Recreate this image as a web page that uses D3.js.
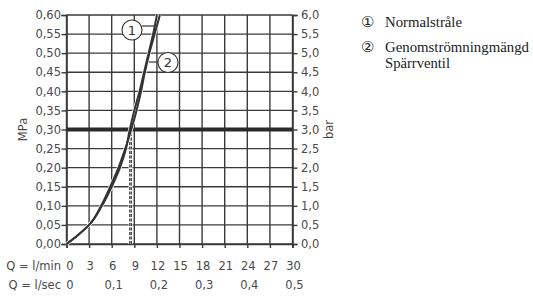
<!DOCTYPE html>
<html><head><meta charset="utf-8">
<script src="https://cdn.jsdelivr.net/npm/d3@7"></script>
<style>body{margin:0;background:#fff}svg{display:block}</style>
</head><body>
<script>
const qMinTicks = [0,3,6,9,12,15,18,21,24,27,30];
const qSecTicks = [0,6,12,18,24,30];
const qSecLabels = ["0","0,1","0,2","0,3","0,4","0,5"];
const mpaTicks = [0,0.05,0.10,0.15,0.20,0.25,0.30,0.35,0.40,0.45,0.50,0.55,0.60];
const barTicks = [0,0.5,1,1.5,2,2.5,3,3.5,4,4.5,5,5.5,6];
const curve1Q = [0,1.5,3,4.7,6.0,7.1,7.9,8.4,9.0,9.7,10.3,10.9,11.5,12.0];
const curve1P = [0,0.023,0.05,0.10,0.15,0.20,0.25,0.30,0.35,0.40,0.45,0.50,0.55,0.60];
const curve2Q = [0,1.5,3,4.6,5.8,6.9,7.8,8.6,9.3,9.9,10.4,11.0,11.7,12.4];
const curve2P = [0,0.023,0.05,0.10,0.15,0.20,0.25,0.30,0.35,0.40,0.45,0.50,0.55,0.60];
const refPressure = 0.30;
const dashQ = [8.4, 8.6];
const legend = [["①","Normalstråle"],["②","Genomströmningmängd","Spärrventil"]];

const W=533,H=297;
const svg=d3.select("body").append("svg").attr("width",W).attr("height",H);
const x=d3.scaleLinear().domain([0,30]).range([66.5,292.5]);
const y=d3.scaleLinear().domain([0,0.6]).range([244,15]);
const yb=d3.scaleLinear().domain([0,6]).range([244,15]);
const font="'DejaVu Sans', sans-serif";
const fs=11.5, tc="#4a4a4a";
const gc="#3a3a3a";

// grid
svg.append("g").selectAll("line").data(qMinTicks).join("line")
 .attr("x1",d=>x(d)).attr("x2",d=>x(d)).attr("y1",y(0)).attr("y2",y(0.6))
 .attr("stroke",gc).attr("stroke-width",1.4);
svg.append("g").selectAll("line").data(mpaTicks).join("line")
 .attr("x1",x(0)).attr("x2",x(30)).attr("y1",d=>y(d)).attr("y2",d=>y(d))
 .attr("stroke",gc).attr("stroke-width",1.4);

// axes
const la=d3.axisLeft(y).tickValues(mpaTicks).tickSize(5).tickFormat(d=>d3.format(".2f")(d).replace(".",","));
const gl=svg.append("g").attr("transform",`translate(${x(0)},0)`).call(la);
const ra=d3.axisRight(yb).tickValues(barTicks).tickSize(5).tickFormat(d=>d3.format(".1f")(d).replace(".",","));
const gr=svg.append("g").attr("transform",`translate(${x(30)},0)`).call(ra);
const ba=d3.axisBottom(x).tickValues(qMinTicks).tickSize(4).tickFormat("");
const gb=svg.append("g").attr("transform",`translate(0,${y(0)})`).call(ba);
[gl,gr,gb].forEach(g=>{
 g.select(".domain").attr("stroke",gc).attr("stroke-width",1.6);
 g.selectAll(".tick line").attr("stroke",gc).attr("stroke-width",1.4);
 g.selectAll("text").attr("font-family",font).attr("font-size",fs).attr("fill",tc);
});
gl.selectAll("text").attr("x",-5.5);
gr.selectAll("text").attr("x",8.5);

// bottom labels
svg.append("g").selectAll("text").data(qMinTicks).join("text")
 .attr("x",d=>x(d)+(d?1:3.5)).attr("y",269.5).attr("text-anchor","middle")
 .attr("font-family",font).attr("font-size",fs).attr("fill",tc).text(d=>d);
svg.append("g").selectAll("text").data(qSecTicks).join("text")
 .attr("x",d=>x(d)+(d?2:3.5)).attr("y",288.5).attr("text-anchor","middle")
 .attr("font-family",font).attr("font-size",fs).attr("fill",tc).text((d,i)=>qSecLabels[i]);
svg.append("text").attr("x",61).attr("y",269.5).attr("text-anchor","end")
 .attr("font-family",font).attr("font-size",fs).attr("fill",tc).text("Q = l/min");
svg.append("text").attr("x",61).attr("y",288.5).attr("text-anchor","end")
 .attr("font-family",font).attr("font-size",fs).attr("fill",tc).text("Q = l/sec");
svg.append("text").attr("transform",`translate(27,${y(0.3)}) rotate(-90)`).attr("text-anchor","middle")
 .attr("font-family",font).attr("font-size",fs).attr("fill",tc).text("MPa");
svg.append("text").attr("transform",`translate(333,${y(0.3)}) rotate(-90)`).attr("text-anchor","middle")
 .attr("font-family",font).attr("font-size",fs).attr("fill",tc).text("bar");

// dashed lines
dashQ.forEach(q=>{
 svg.append("line").attr("x1",x(q)).attr("x2",x(q)).attr("y1",y(0)).attr("y2",y(refPressure))
  .attr("stroke","#fff").attr("stroke-width",2.5);
});
dashQ.forEach(q=>{
 svg.append("line").attr("x1",x(q)).attr("x2",x(q)).attr("y1",y(0)).attr("y2",y(refPressure))
  .attr("stroke","#333").attr("stroke-width",1.2).attr("stroke-dasharray","3,1.5");
});

// reference line
svg.append("line").attr("x1",x(0)).attr("x2",x(30)).attr("y1",y(refPressure)).attr("y2",y(refPressure))
 .attr("stroke","#2a2a2a").attr("stroke-width",4);

// curves
const line=d3.line().curve(d3.curveMonotoneY);
[[curve1Q,curve1P],[curve2Q,curve2P]].forEach(([qs,ps])=>{
 const pts=qs.map((q,i)=>[x(q),y(ps[i])]);
 svg.append("path").attr("d",line(pts)).attr("fill","none").attr("stroke","#fff").attr("stroke-width",3.4);
});
[[curve1Q,curve1P],[curve2Q,curve2P]].forEach(([qs,ps])=>{
 const pts=qs.map((q,i)=>[x(q),y(ps[i])]);
 svg.append("path").attr("d",line(pts)).attr("fill","none").attr("stroke","#333").attr("stroke-width",2);
});

// callouts
const call=[[132,30,"1",142,155,26],[168,62.5,"2",158.5,149,62]];
call.forEach(([cx,cy,t,x1,x2,ly])=>{
 svg.append("line").attr("x1",x1).attr("x2",x2).attr("y1",ly).attr("y2",ly)
  .attr("stroke","#333").attr("stroke-width",1.2);
 svg.append("circle").attr("cx",cx).attr("cy",cy).attr("r",10).attr("fill","#fff").attr("stroke","#333").attr("stroke-width",1.1);
 svg.append("text").attr("x",cx).attr("y",cy+4.5).attr("text-anchor","middle")
  .attr("font-family",font).attr("font-size",13).attr("fill","#333").text(t);
});

// legend
const lf="'Liberation Serif', 'Times New Roman', serif";
const lg=svg.append("g").attr("font-family",lf).attr("font-size",15).attr("fill","#222");
lg.append("text").attr("x",361).attr("y",27).text(legend[0][0]);
lg.append("text").attr("x",385).attr("y",27).attr("textLength",77).attr("lengthAdjust","spacingAndGlyphs").text(legend[0][1]);
lg.append("text").attr("x",361).attr("y",52).text(legend[1][0]);
lg.append("text").attr("x",385).attr("y",52).attr("textLength",144).attr("lengthAdjust","spacingAndGlyphs").text(legend[1][1]);
lg.append("text").attr("x",385).attr("y",68).attr("textLength",65).attr("lengthAdjust","spacingAndGlyphs").text(legend[1][2]);
</script>
</body></html>
